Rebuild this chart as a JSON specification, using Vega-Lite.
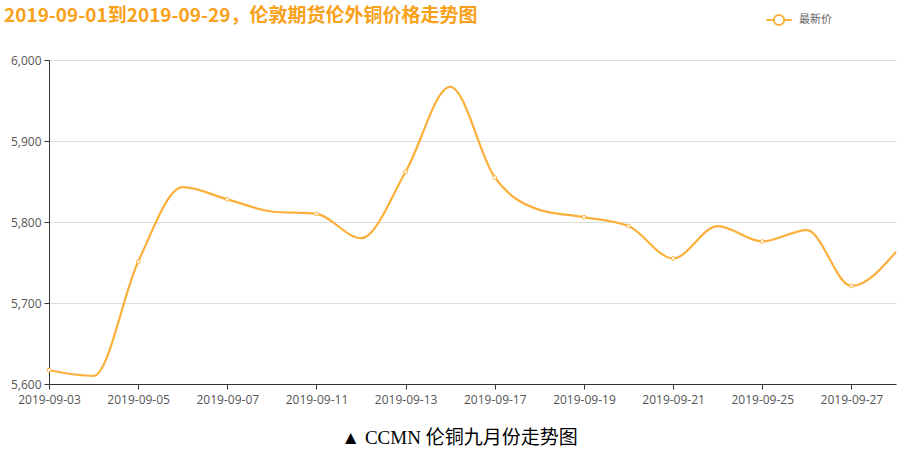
{
  "$schema": "https://vega.github.io/schema/vega-lite/v6.json",
  "width": 847,
  "height": 324,
  "autosize": {"type": "none"},
  "padding": {"left": 49, "top": 60, "right": 10, "bottom": 72},
  "background": "white",
  "title": {
    "text": "2019-09-01到2019-09-29，伦敦期货伦外铜价格走势图",
    "anchor": "start",
    "frame": "group",
    "orient": "top",
    "dx": -45,
    "offset": -35,
    "baseline": "alphabetic",
    "font": "Noto Sans CJK SC",
    "fontSize": 19,
    "fontWeight": "bold",
    "color": "#f9a11b"
  },
  "config": {
    "view": {"stroke": null},
    "font": "Noto Sans CJK SC"
  },
  "data": {
    "values": [
      {"date": "2019-09-03", "price": 5617, "series": "最新价"},
      {"date": "2019-09-04", "price": 5610, "series": "最新价"},
      {"date": "2019-09-05", "price": 5751, "series": "最新价"},
      {"date": "2019-09-06", "price": 5843, "series": "最新价"},
      {"date": "2019-09-07", "price": 5828, "series": "最新价"},
      {"date": "2019-09-10", "price": 5813, "series": "最新价"},
      {"date": "2019-09-11", "price": 5810, "series": "最新价"},
      {"date": "2019-09-12", "price": 5780, "series": "最新价"},
      {"date": "2019-09-13", "price": 5862, "series": "最新价"},
      {"date": "2019-09-16", "price": 5967, "series": "最新价"},
      {"date": "2019-09-17", "price": 5855, "series": "最新价"},
      {"date": "2019-09-18", "price": 5815, "series": "最新价"},
      {"date": "2019-09-19", "price": 5806, "series": "最新价"},
      {"date": "2019-09-20", "price": 5795, "series": "最新价"},
      {"date": "2019-09-21", "price": 5755, "series": "最新价"},
      {"date": "2019-09-24", "price": 5795, "series": "最新价"},
      {"date": "2019-09-25", "price": 5776, "series": "最新价"},
      {"date": "2019-09-26", "price": 5790, "series": "最新价"},
      {"date": "2019-09-27", "price": 5721, "series": "最新价"},
      {"date": "2019-09-28", "price": 5763, "series": "最新价"}
    ]
  },
  "encoding": {
    "x": {
      "field": "date",
      "type": "ordinal",
      "sort": null,
      "scale": {"type": "point", "padding": 0},
      "axis": {
        "values": ["2019-09-03", "2019-09-05", "2019-09-07", "2019-09-11", "2019-09-13", "2019-09-17", "2019-09-19", "2019-09-21", "2019-09-25", "2019-09-27"],
        "labelAngle": 0,
        "labelFont": "Open Sans",
        "labelFontSize": 12,
        "labelColor": "#555555",
        "labelPadding": 5,
        "tickSize": 5,
        "tickColor": "#333333",
        "domainColor": "#333333",
        "grid": false,
        "title": "▲ CCMN 伦铜九月份走势图",
        "titleFont": "Liberation Serif, Noto Sans CJK SC",
        "titleFontSize": 19,
        "titleFontWeight": "normal",
        "titleColor": "#000000",
        "titlePadding": 23,
        "titleX": 410
      }
    },
    "y": {
      "field": "price",
      "type": "quantitative",
      "scale": {"domain": [5600, 6000], "nice": false, "zero": false},
      "axis": {
        "values": [5600, 5700, 5800, 5900, 6000],
        "format": ",.0f",
        "labelFont": "Open Sans",
        "labelFontSize": 12,
        "labelColor": "#555555",
        "labelPadding": 3,
        "tickSize": 5,
        "tickColor": "#333333",
        "domainColor": "#333333",
        "gridColor": "#dddddd",
        "title": null
      }
    }
  },
  "layer": [
    {
      "mark": {"type": "line", "interpolate": "monotone", "strokeWidth": 2.2},
      "encoding": {
        "color": {
          "field": "series",
          "type": "nominal",
          "scale": {"range": ["#fbb03b"]},
          "legend": {
            "orient": "none",
            "legendX": 716,
            "legendY": -54,
            "title": null,
            "symbolType": "M-1,0H-0.42M0.42,0H1M0.4,0A0.4,0.4,0,1,1,-0.4,0A0.4,0.4,0,1,1,0.4,0Z",
            "symbolSize": 650,
            "symbolStrokeWidth": 2,
            "symbolFillColor": "white",
            "symbolStrokeColor": "#fbb03b",
            "labelFont": "Noto Sans CJK SC",
            "labelFontSize": 11,
            "labelColor": "#666666",
            "labelOffset": 6
          }
        }
      }
    },
    {
      "transform": [
        {"filter": {"field": "date", "oneOf": ["2019-09-03", "2019-09-05", "2019-09-07", "2019-09-11", "2019-09-13", "2019-09-17", "2019-09-19", "2019-09-20", "2019-09-21", "2019-09-25", "2019-09-27"]}}
      ],
      "mark": {"type": "point", "shape": "circle", "filled": true, "fill": "white", "stroke": "#fbb03b", "strokeWidth": 1, "size": 14, "opacity": 1}
    }
  ]
}
